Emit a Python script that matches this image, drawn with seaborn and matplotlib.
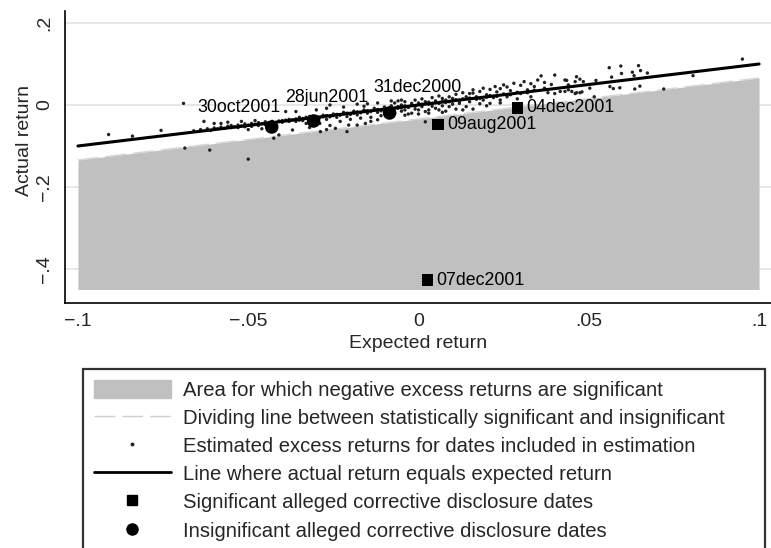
import matplotlib
matplotlib.use("Agg")
import matplotlib.pyplot as plt
import seaborn as sns
import pandas as pd
from matplotlib.patches import Patch
from matplotlib.lines import Line2D

# ---------------- data ----------------
# estimated excess returns (expected, actual) - scattered part
est_x = [-0.091, -0.084, -0.0756, -0.069, -0.0686, -0.0613, -0.050,
         -0.066, -0.064, -0.062, -0.061, -0.060, -0.059, -0.058, -0.057, -0.056, -0.055,
         -0.055, -0.054, -0.053, -0.053, -0.052, -0.051, -0.051, -0.050, -0.049, -0.049,
         -0.048, -0.047, -0.047, -0.046, -0.045, -0.045, -0.044, -0.063, -0.058, -0.052,
         -0.048, -0.044, -0.046, -0.050,
         -0.0425, -0.041, -0.037, -0.039, -0.036, -0.0288, -0.0244, -0.021, -0.018, -0.0156,
         -0.0205, -0.040, -0.038, -0.036, -0.035, -0.034, -0.033, -0.032, -0.030, -0.029,
         -0.028, -0.027, -0.026, -0.025, -0.024, -0.023, -0.022, -0.021, -0.020, -0.019,
         -0.018, -0.017, -0.016, -0.015, -0.014, -0.013, -0.012, -0.011, -0.010, -0.010,
         -0.009, -0.032, -0.027, -0.014, -0.012, -0.026, -0.018, -0.016,
         -0.008, -0.008, -0.007, -0.007, -0.006, -0.006, -0.005, -0.005, -0.004, -0.004,
         -0.003, -0.003, -0.002, -0.002, -0.001, -0.001, 0.000, 0.000, 0.001, 0.001,
         0.002, 0.002, 0.002, 0.003, 0.003, 0.004, 0.004, 0.005, 0.005, 0.006,
         0.006, 0.007, 0.007, 0.008, 0.008, 0.009, 0.009, 0.010, 0.010, 0.011,
         0.012, 0.012, 0.013, 0.014, 0.014, 0.015, 0.016, 0.016, 0.017, 0.018,
         0.019, 0.019, 0.020, 0.021, 0.022, 0.0225, 0.023, 0.024, 0.025, 0.026,
         0.027, 0.028, 0.029, 0.030, 0.031, 0.032, 0.033, 0.034, 0.035, 0.036,
         0.037, 0.038, 0.040, 0.040, 0.043, 0.044, 0.046, 0.016, 0.020, 0.024,
         0.0951, 0.0806, 0.072, 0.056, 0.0594, 0.0596, 0.0646, 0.0652, 0.0672, 0.0628,
         0.0633, 0.0567, 0.0521, 0.0562, 0.0572, 0.0591, 0.0635, 0.065, 0.0503, 0.0516,
         0.0464, 0.0474, 0.0484, 0.046, 0.0435, 0.044, 0.045, 0.0464, 0.0474, 0.048,
         0.0416, 0.043]
est_y = [-0.072, -0.076, -0.062, 0.004, -0.105, -0.110, -0.132,
         -0.063, -0.060, -0.058, -0.062, -0.056, -0.058, -0.054, -0.057, -0.052, -0.055,
         -0.050, -0.053, -0.049, -0.055, -0.051, -0.046, -0.053, -0.049, -0.045, -0.052,
         -0.047, -0.043, -0.050, -0.046, -0.041, -0.048, -0.044, -0.040, -0.045, -0.040,
         -0.038, -0.060, -0.058, -0.060,
         -0.081, -0.073, -0.061, -0.016, -0.016, -0.065, -0.057, -0.065, -0.049, -0.045,
         -0.049, -0.038, -0.035, -0.040, -0.030, -0.038, -0.045, -0.028, -0.032, -0.045,
         -0.025, -0.035, -0.050, -0.022, -0.030, -0.040, -0.018, -0.028, -0.035, -0.015,
         -0.024, -0.032, -0.012, -0.020, -0.030, -0.008, -0.018, -0.026, -0.005, -0.014,
         -0.030, -0.055, -0.060, -0.040, -0.036, 0.000, 0.002, -0.003,
         -0.002, -0.012, 0.005, -0.020, -0.008, 0.010, -0.015, 0.000, -0.012, 0.008,
         -0.005, -0.022, -0.020, 0.004, -0.010, 0.012, -0.012, 0.002, -0.004, 0.015,
         -0.041, -0.016, 0.008, -0.012, 0.002, 0.004, 0.018, -0.008, 0.010, -0.012,
         0.022, 0.016, -0.002, 0.006, -0.015, -0.004, 0.020, 0.016, 0.002, 0.026,
         0.004, 0.012, 0.030, -0.004, 0.020, 0.008, 0.029, 0.037, 0.014, 0.003,
         0.041, 0.012, 0.025, 0.004, 0.018, 0.045, 0.032, 0.012, 0.049, 0.020,
         0.035, 0.053, 0.015, 0.028, 0.057, 0.037, 0.020, 0.045, 0.061, 0.071,
         0.041, 0.030, 0.073, 0.028, 0.061, 0.037, 0.028, -0.010, -0.002, 0.005,
         0.112, 0.0715, 0.039, 0.091, 0.095, 0.077, 0.096, 0.084, 0.078, 0.080,
         0.0716, 0.068, 0.060, 0.045, 0.040, 0.042, 0.039, 0.046, 0.041, 0.020,
         0.069, 0.063, 0.057, 0.057, 0.060, 0.049, 0.033, 0.030, 0.030, 0.032,
         0.033, 0.033]

# estimated excess returns - dense band close to the line
band_x = [-0.043, -0.042, -0.041, -0.040, -0.039, -0.038, -0.037, -0.036, -0.035, -0.034,
          -0.033, -0.031, -0.030, -0.029, -0.028, -0.027, -0.026, -0.025, -0.024, -0.023,
          -0.022, -0.021, -0.020, -0.019, -0.018, -0.017, -0.016, -0.015, -0.014, -0.013,
          -0.012, -0.011, -0.010, -0.009, -0.008, -0.007, -0.006, -0.005, -0.004, -0.003,
          -0.002, -0.001, 0.000, 0.001, 0.002, 0.003, 0.004, 0.005, 0.006, 0.007,
          0.008, 0.009, 0.010, 0.011, 0.012, 0.013, 0.015, 0.017, 0.018, 0.020,
          0.021, 0.023, 0.025, 0.027, 0.029, 0.032, 0.034,
          -0.030, -0.027, -0.022, -0.015, -0.012, -0.008, -0.005, -0.060, -0.056,
          -0.008, -0.004, 0.000, 0.003, 0.007, 0.011, 0.013, 0.015, 0.018, 0.021,
          0.024, 0.026, 0.030, 0.033, 0.037, 0.039]
band_y = [-0.040, -0.044, -0.039, -0.042, -0.037, -0.040, -0.036, -0.034, -0.037, -0.033,
          -0.030, -0.033, -0.028, -0.031, -0.029, -0.026, -0.029, -0.026, -0.023, -0.025,
          -0.022, -0.020, -0.023, -0.020, -0.017, -0.019, -0.016, -0.014, -0.016, -0.013,
          -0.011, -0.014, -0.009, -0.012, -0.007, -0.010, -0.004, -0.007, -0.002, -0.006,
          0.000, -0.003, 0.005, 0.002, 0.004, 0.007, -0.003, 0.006, 0.004, 0.009,
          0.012, 0.008, 0.010, 0.013, 0.009, 0.015, 0.017, 0.020, 0.016, 0.019,
          0.023, 0.021, 0.027, 0.025, 0.031, 0.030, 0.036,
          -0.012, -0.008, -0.005, 0.003, 0.005, 0.010, 0.012, -0.045, -0.042,
          -0.028, -0.025, -0.022, -0.020, -0.018, -0.010, -0.012, 0.028, 0.033, 0.038,
          0.040, 0.044, 0.048, 0.052, 0.055, 0.050]

# line where actual = expected
line_x = [-0.1, 0.1]
line_y = [-0.1, 0.1]

# significance area
area_x = [-0.1, 0.1]
area_top = [-0.134, 0.066]
area_bottom = -0.45

# alleged corrective disclosure dates
sig_dates = ["04dec2001", "09aug2001", "07dec2001"]
sig_x = [0.029, 0.0057, 0.0026]
sig_y = [-0.0073, -0.0476, -0.427]

insig_dates = ["30oct2001", "28jun2001", "31dec2000"]
insig_x = [-0.0431, -0.0308, -0.0085]
insig_y = [-0.0537, -0.039, -0.0195]

xticks = [-0.1, -0.05, 0, 0.05, 0.1]
xtick_labels = ["\u2212.1", "\u2212.05", "0", ".05", ".1"]
yticks = [0.2, 0, -0.2, -0.4]
ytick_labels = [".2", "0", "\u2212.2", "\u2212.4"]

legend_labels = [
    "Area for which negative excess returns are significant",
    "Dividing line between statistically significant and insignificant",
    "Estimated excess returns for dates included in estimation",
    "Line where actual return equals expected return",
    "Significant alleged corrective disclosure dates",
    "Insignificant alleged corrective disclosure dates",
]

# ---------------- style ----------------
sns.set_style("white")
plt.rcParams["font.family"] = ["Liberation Sans", "DejaVu Sans"]

fig = plt.figure(figsize=(7.71, 5.48), dpi=100)
ax = fig.add_axes([65 / 771, 1 - 303 / 548, 1 - 65 / 771, (303 - 11) / 548])

ax.set_xlim(-0.1038, 0.1035)
ax.set_ylim(-0.483, 0.2293)

for yv in yticks:
    ax.axhline(yv, color="#e0e0e0", lw=1.1, zorder=0)

gray = "#c0c0c0"
ax.fill_between(area_x, [area_bottom] * len(area_x), area_top, color=gray, lw=0, zorder=1)
ax.plot(area_x, area_top, color="#d6d6d6", lw=1.0, dashes=(15, 5), zorder=1.5)

dots = pd.DataFrame({"x": est_x + band_x, "y": est_y + band_y})
sns.scatterplot(data=dots, x="x", y="y", ax=ax, s=6, color="#222222",
                edgecolor="none", zorder=2, legend=False)

sns.lineplot(x=line_x, y=line_y, ax=ax, color="black", lw=2.2, zorder=3)

sig = pd.DataFrame({"x": sig_x, "y": sig_y, "lab": sig_dates})
insig = pd.DataFrame({"x": insig_x, "y": insig_y, "lab": insig_dates})
sns.scatterplot(data=sig, x="x", y="y", ax=ax, marker="s", s=66, color="black",
                edgecolor="none", zorder=4, legend=False)
sns.scatterplot(data=insig, x="x", y="y", ax=ax, marker="o", s=95, color="black",
                edgecolor="none", zorder=4, legend=False)

lab_fs = 12.8
for xv, yv, t in zip(sig_x, sig_y, sig_dates):
    ax.annotate(t, (xv, yv), xytext=(9, 0), textcoords="offset pixels",
                ha="left", va="center", fontsize=lab_fs, color="black", zorder=5)

insig_offsets = [(9, 20), (-28, 23), (-16, 25)]
insig_ha = ["right", "left", "left"]
for xv, yv, t, off, ha in zip(insig_x, insig_y, insig_dates, insig_offsets, insig_ha):
    ax.annotate(t, (xv, yv), xytext=off, textcoords="offset pixels",
                ha=ha, va="center", fontsize=lab_fs, color="black", zorder=5)

# axes styling
for side in ["top", "right"]:
    ax.spines[side].set_visible(False)
for side in ["left", "bottom"]:
    ax.spines[side].set_color("black")
    ax.spines[side].set_linewidth(1.2)

ax.set_xticks(xticks)
ax.set_xticklabels(xtick_labels, fontsize=14)
ax.set_yticks(yticks)
ax.set_yticklabels(ytick_labels, fontsize=14, rotation=90, va="center")
ax.tick_params(axis="both", direction="out", length=5.5, width=1.2, color="black")
ax.tick_params(axis="x", pad=2)
ax.tick_params(axis="y", pad=3)

ax.set_xlabel("Expected return", fontsize=14, labelpad=3)
ax.set_ylabel("Actual return", fontsize=14)
ax.yaxis.set_label_coords(-0.045, 0.555)

# legend
handles = [
    Patch(facecolor=gray, edgecolor=gray),
    Line2D([], [], color="#d0d0d0", lw=1.0, dashes=(15, 5)),
    Line2D([], [], ls="none", marker="o", markersize=1.8, color="#222222"),
    Line2D([], [], color="black", lw=2.0),
    Line2D([], [], ls="none", marker="s", markersize=7.5, color="black"),
    Line2D([], [], ls="none", marker="o", markersize=8, color="black"),
]
leg = fig.legend(handles, legend_labels, loc="upper left",
                 bbox_to_anchor=(83 / 771, 1 - 369 / 548, (765 - 83) / 771, 0),
                 mode="expand", borderaxespad=0, fontsize=14.6, frameon=True,
                 fancybox=False, handlelength=3.8, handleheight=1.0,
                 handletextpad=0.6, labelspacing=0.4, borderpad=0.54)
leg.get_frame().set_edgecolor("black")
leg.get_frame().set_linewidth(1.6)

fig.savefig("out.png", dpi=100)
